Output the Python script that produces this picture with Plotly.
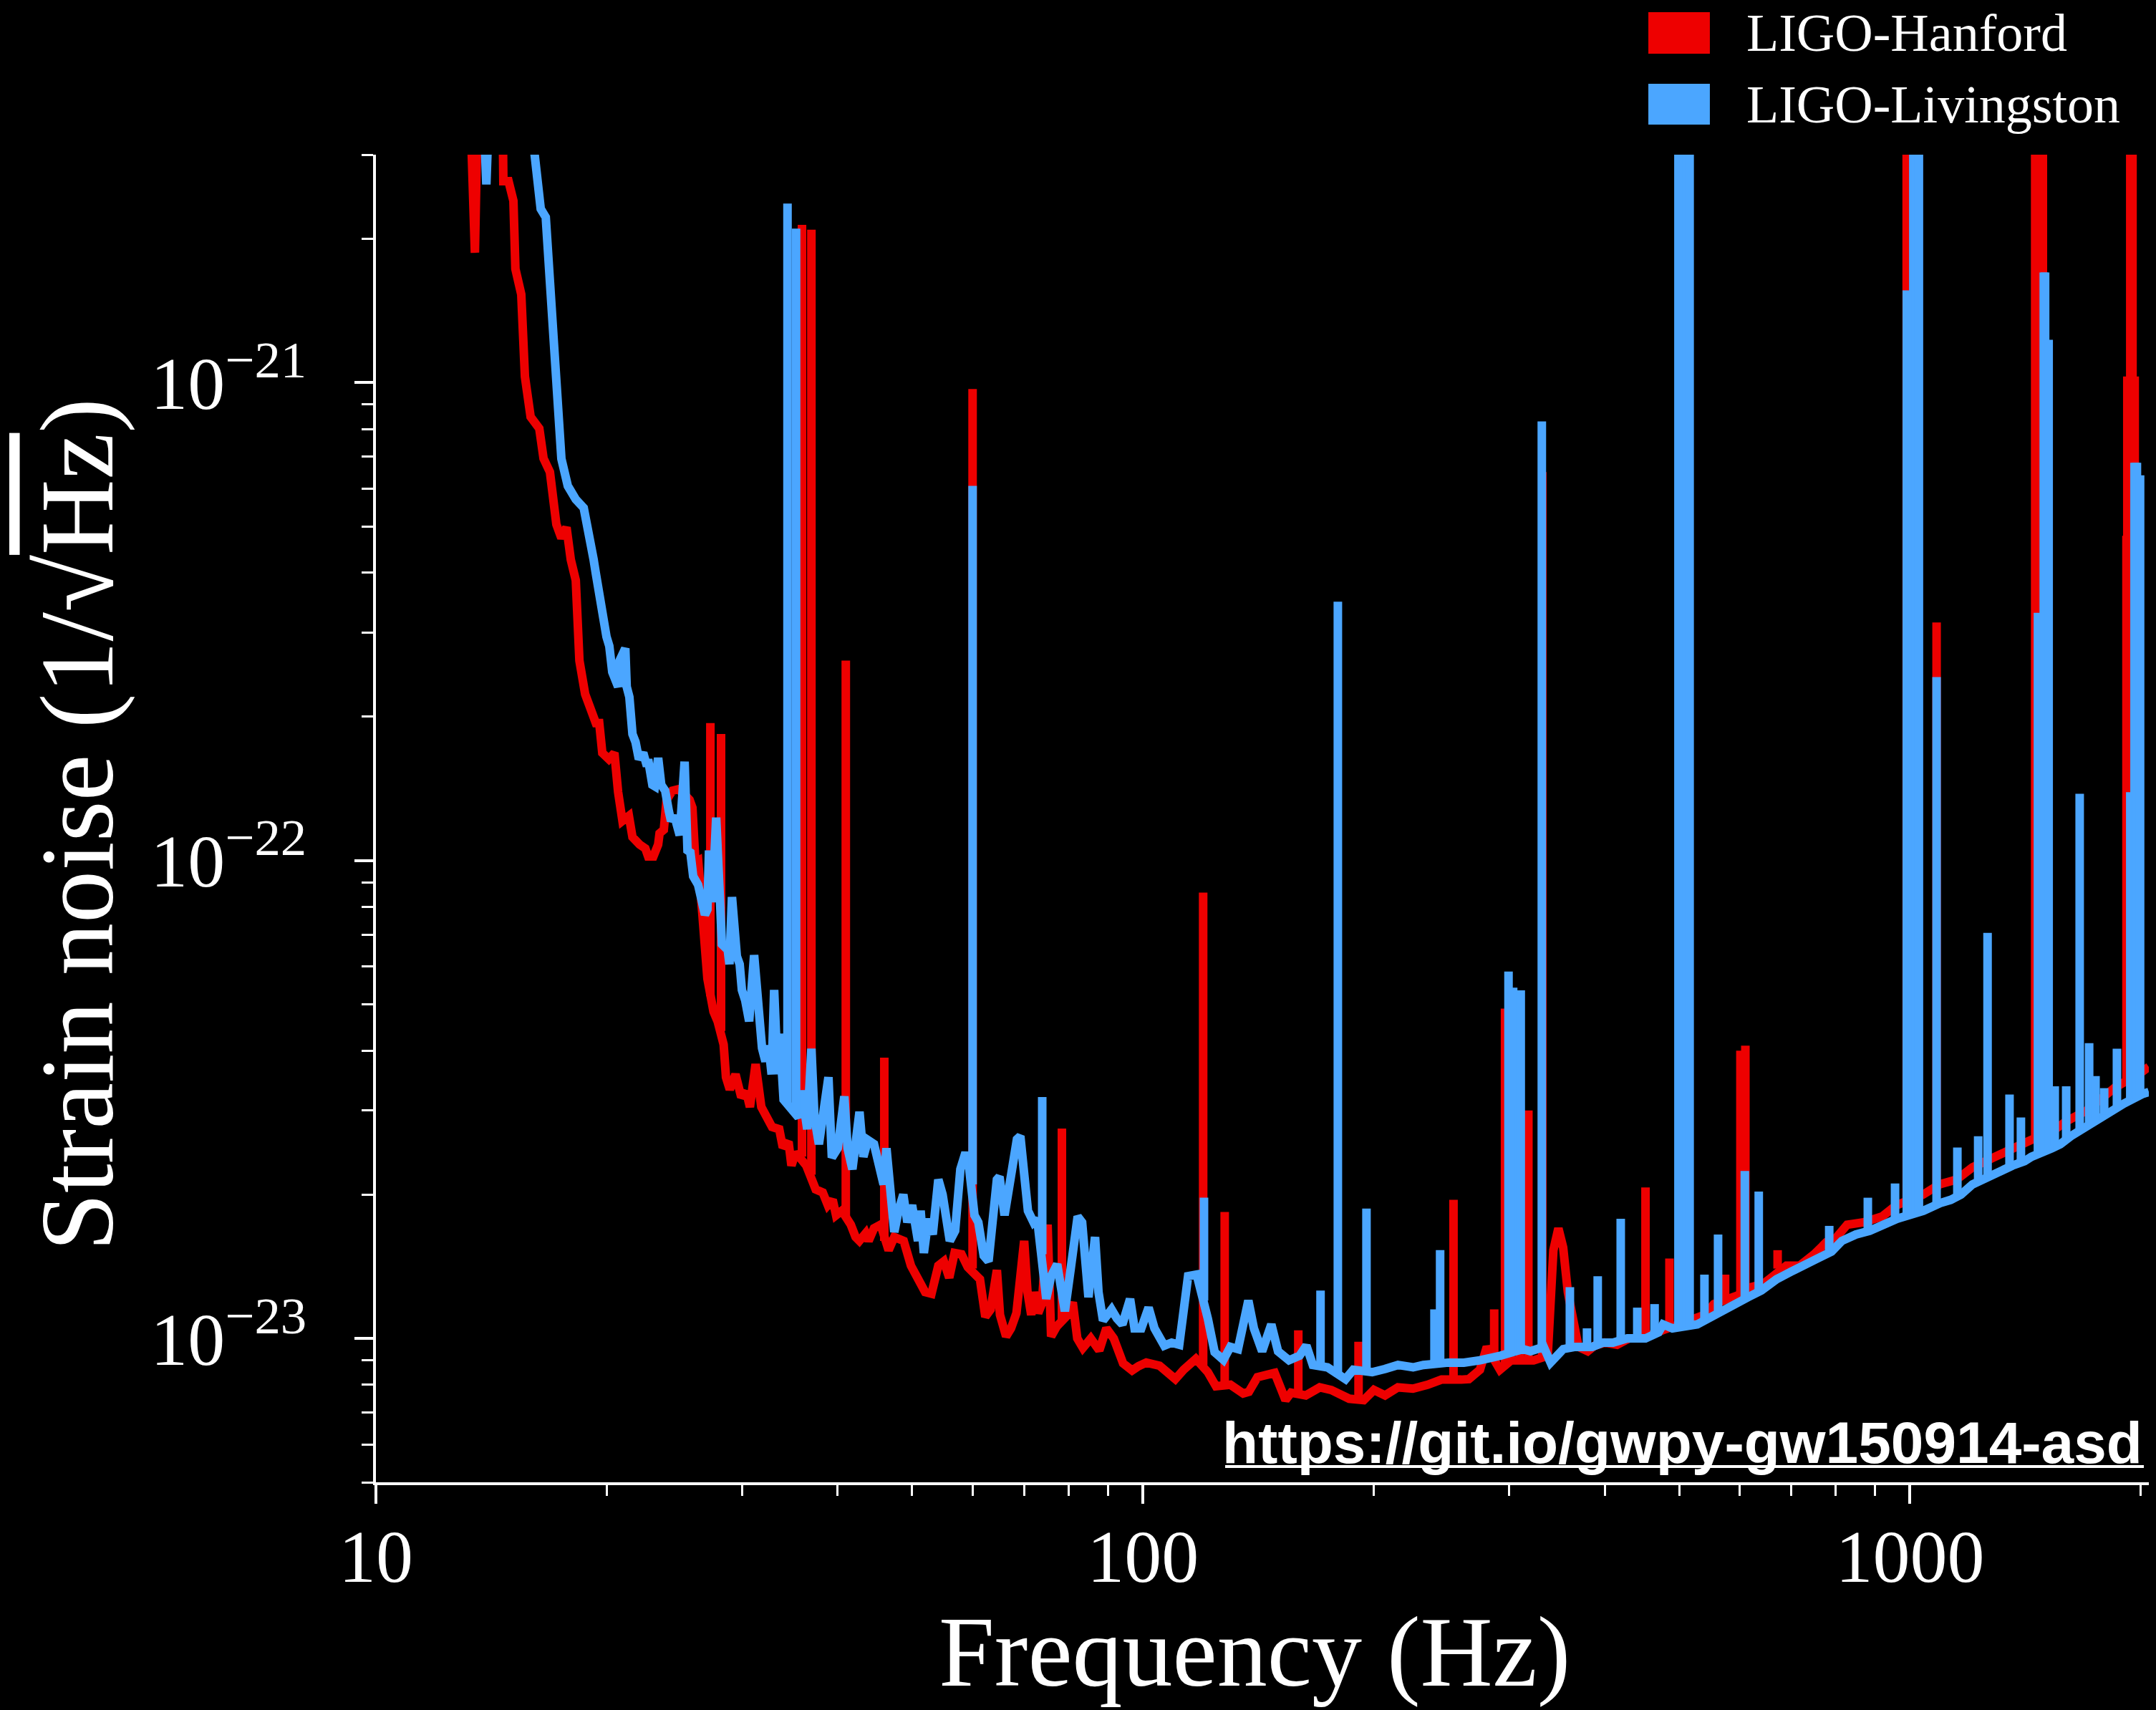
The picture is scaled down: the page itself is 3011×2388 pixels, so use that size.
import math
import plotly.graph_objects as go

# ---------------- data ----------------
# LIGO-Hanford broadband ASD (Hz, 1/sqrt(Hz))
h_freq = [
    10.0, 12.0, 13.2, 13.46, 13.62, 14.0, 14.6, 14.66,
    14.89, 15.11, 15.2, 15.47, 15.64, 15.91, 16.33, 16.54,
    16.86, 17.19, 17.45, 17.72, 17.95, 18.22, 18.42, 18.74,
    19.14, 19.35, 19.55, 19.73, 20.12, 20.46, 20.69, 20.96,
    21.37, 21.6, 22.07, 22.45, 22.64, 23.0, 23.33, 23.43,
    23.73, 23.93, 24.35, 24.77, 25.2, 25.64, 25.86, 26.09,
    26.31, 26.49, 26.8, 27.05, 27.55, 27.9, 28.4, 28.6,
    28.93, 29.43, 29.94, 30.4, 30.73, 31.26, 31.8, 32.28,
    32.84, 33.56, 33.92, 34.51, 34.81, 35.26, 35.6, 36.4,
    37.44, 38.24, 38.83, 39.4, 39.8, 40.5, 41.6, 42.2,
    42.69, 43.5, 43.88, 44.6, 45.5, 46.6, 47.4, 48.76,
    49.83, 50.9, 52.0, 53.0, 54.1, 55.0, 55.9, 56.8,
    58.0, 59.1, 60.7, 61.3, 62.3, 63.3, 64.5, 65.1,
    66.3, 67.3, 68.4, 69.2, 70.0, 70.7, 71.5, 72.1,
    73.0, 73.8, 75.1, 75.9, 77.2, 79.8, 81.0, 82.1,
    83.5, 85.5, 87.7, 89.6, 91.6, 94.2, 96.8, 98.7,
    101.0, 105.1, 108.0, 110.2, 113.0, 117.2, 121.5, 124.5,
    130.0, 135.1, 137.4, 141.0, 148.5, 153.4, 156.0, 163.0,
    170.0, 176.0, 185.7, 194.0, 200.0, 206.8, 215.0, 224.9,
    235.0, 245.0, 260.0, 266.0, 275.0, 280.7, 292.0, 302.0,
    313.0, 323.0, 337.0, 342.8, 348.0, 353.0, 358.0, 364.8,
    369.6, 380.0, 388.0, 400.0, 415.0, 430.0, 445.0, 460.0,
    475.0, 492.0, 500.0, 515.0, 525.0, 540.0, 555.0, 585.0,
    596.0, 620.0, 643.7, 690.0, 718.0, 750.0, 778.0, 800.0,
    828.0, 870.0, 920.0, 960.0, 1040.0, 1092.0, 1150.0, 1206.0,
    1260.0, 1330.0, 1400.0, 1550.0, 1600.0, 1700.0, 1779.0, 1850.0,
    2000.0, 2048.0,
]
h_asd = [
    3e-19, 2e-20, 5e-21, 1.87e-21, 5e-21, 8e-21, 5e-21, 2.64e-21,
    2.64e-21, 2.40e-21, 1.73e-21, 1.53e-21, 1.03e-21, 8.48e-22, 8.02e-22, 6.94e-22,
    6.50e-22, 5.05e-22, 4.73e-22, 4.98e-22, 4.26e-22, 3.86e-22, 2.62e-22, 2.23e-22,
    2.06e-22, 1.94e-22, 1.94e-22, 1.68e-22, 1.63e-22, 1.68e-22, 1.39e-22, 1.21e-22,
    1.24e-22, 1.12e-22, 1.08e-22, 1.06e-22, 1.02e-22, 1.02e-22, 1.08e-22, 1.14e-22,
    1.16e-22, 1.34e-22, 1.40e-22, 1.41e-22, 1.38e-22, 1.34e-22, 1.29e-22, 9.93e-23,
    1.0e-22, 8.48e-23, 7.11e-23, 5.66e-23, 4.83e-23, 4.6e-23, 4.12e-23, 3.52e-23,
    3.32e-23, 3.57e-23, 3.20e-23, 3.28e-23, 3.05e-23, 3.75e-23, 3.05e-23, 2.94e-23,
    2.77e-23, 2.74e-23, 2.51e-23, 2.58e-23, 2.30e-23, 2.45e-23, 2.4e-23, 2.3e-23,
    2.05e-23, 2.02e-23, 1.90e-23, 1.95e-23, 1.81e-23, 1.85e-23, 1.73e-23, 1.63e-23,
    1.60e-23, 1.66e-23, 1.60e-23, 1.70e-23, 1.73e-23, 1.53e-23, 1.63e-23, 1.60e-23,
    1.42e-23, 1.32e-23, 1.25e-23, 1.24e-23, 1.42e-23, 1.45e-23, 1.34e-23, 1.51e-23,
    1.50e-23, 1.41e-23, 1.36e-23, 1.33e-23, 1.11e-23, 1.15e-23, 1.39e-23, 1.12e-23,
    1.01e-23, 1.05e-23, 1.13e-23, 1.42e-23, 1.60e-23, 1.25e-23, 1.12e-23, 1.25e-23,
    1.13e-23, 1.18e-23, 1.73e-23, 1.01e-23, 1.06e-23, 1.12e-23, 1.19e-23, 1.0e-23,
    9.55e-24, 1.0e-23, 9.44e-24, 1.05e-23, 1.0e-23, 8.87e-24, 8.57e-24, 8.75e-24,
    8.9e-24, 8.77e-24, 8.4e-24, 8.22e-24, 8.6e-24, 9.06e-24, 8.5e-24, 7.94e-24,
    8.0e-24, 7.67e-24, 7.73e-24, 8.3e-24, 8.47e-24, 7.43e-24, 7.7e-24, 7.6e-24,
    7.9e-24, 7.8e-24, 7.48e-24, 7.43e-24, 7.8e-24, 7.6e-24, 7.9e-24, 7.85e-24,
    8.0e-24, 8.2e-24, 8.2e-24, 8.22e-24, 8.6e-24, 9.6e-24, 8.6e-24, 9.0e-24,
    9.0e-24, 9.0e-24, 9.2e-24, 1.53e-23, 1.70e-23, 1.55e-23, 1.25e-23, 1.04e-23,
    9.6e-24, 9.4e-24, 9.66e-24, 9.8e-24, 9.7e-24, 1.0e-23, 1.0e-23, 1.02e-23,
    1.04e-23, 1.06e-23, 1.07e-23, 1.09e-23, 1.10e-23, 1.12e-23, 1.18e-23, 1.22e-23,
    1.23e-23, 1.28e-23, 1.30e-23, 1.42e-23, 1.42e-23, 1.5e-23, 1.59e-23, 1.62e-23,
    1.73e-23, 1.75e-23, 1.8e-23, 1.9e-23, 2.0e-23, 2.1e-23, 2.15e-23, 2.28e-23,
    2.35e-23, 2.45e-23, 2.55e-23, 2.75e-23, 2.85e-23, 3.0e-23, 3.2e-23, 3.35e-23,
    3.6e-23, 3.7e-23,
]
# LIGO-Hanford narrow lines: frequency, level at foot, level at top
h_line_freq = [
    27.29, 28.18, 35.93, 36.96, 40.98, 46.0, 59.96, 78.4,
    119.8, 127.8, 159.4, 191.0, 254.0, 287.0, 296.5, 310.0,
    318.0, 331.6, 452.0, 485.7, 574.0, 601.0, 610.0, 672.0,
    990.0, 1083.0, 1456.0, 1465.0, 1474.0, 1482.0, 1490.0, 1915.0,
    1920.0, 1937.0, 1944.0, 1950.0, 1963.0,
]
h_line_floor = [
    5.2e-23, 4.4e-23, 2.4e-23, 2.2e-23, 1.8e-23, 1.6e-23, 1.4e-23, 1.08e-23,
    8.8e-24, 7.9e-24, 7.6e-24, 7.45e-24, 8.2e-24, 9.0e-24, 8.8e-24, 9.0e-24,
    9.0e-24, 9.1e-24, 1.01e-23, 1.05e-23, 1.2e-23, 1.24e-23, 1.25e-23, 1.4e-23,
    1.95e-23, 2.05e-23, 2.6e-23, 2.6e-23, 2.6e-23, 2.6e-23, 2.6e-23, 3.4e-23,
    3.4e-23, 3.45e-23, 3.45e-23, 3.45e-23, 3.5e-23,
]
h_line_peak = [
    1.94e-22, 1.84e-22, 2.14e-21, 2.09e-21, 2.62e-22, 3.87e-23, 9.7e-22, 2.75e-23,
    8.57e-23, 1.84e-23, 1.04e-23, 9.84e-24, 1.95e-23, 1.15e-23, 4.9e-23, 3.1e-23,
    3.0e-23, 6.5e-22, 2.07e-23, 1.47e-23, 1.36e-23, 4.0e-23, 4.1e-23, 1.53e-23,
    8e-21, 3.15e-22, 8e-21, 8e-21, 8e-21, 8e-21, 8e-21, 4.78e-22,
    1.03e-21, 8e-21, 8e-21, 8e-21, 1.03e-21,
]

# LIGO-Livingston broadband ASD
l_freq = [
    10.0, 12.0, 13.5, 13.75, 13.93, 14.1, 15.0, 15.9,
    16.08, 16.4, 16.65, 16.94, 17.19, 17.45, 17.79, 18.22,
    18.66, 18.94, 19.22, 19.35, 19.68, 19.98, 20.15, 20.33,
    20.69, 20.78, 21.14, 21.23, 21.4, 21.6, 21.8, 22.02,
    22.31, 22.5, 22.68, 22.93, 23.1, 23.33, 23.55, 23.83,
    24.09, 24.25, 24.5, 24.89, 25.26, 25.48, 25.7, 25.92,
    26.3, 26.6, 26.85, 27.05, 27.18, 27.45, 27.77, 28.1,
    28.25, 28.75, 28.9, 29.12, 29.55, 29.8, 30.0, 30.3,
    30.66, 31.12, 31.5, 31.87, 32.2, 32.5, 32.8, 33.05,
    33.4, 33.6, 34.0, 34.8, 35.55, 35.9, 36.5, 36.96,
    37.3, 37.8, 38.3, 38.9, 39.3, 40.0, 40.8, 41.2,
    41.8, 42.7, 43.2, 43.8, 44.6, 45.3, 45.9, 46.3,
    46.8, 47.4, 48.0, 48.7, 49.3, 50.0, 50.9, 51.3,
    51.8, 52.5, 53.2, 54.1, 54.8, 55.5, 56.0, 56.9,
    57.8, 58.7, 59.3, 60.3, 61.0, 62.0, 62.9, 64.5,
    65.0, 66.0, 67.0, 68.5, 69.2, 70.0, 70.8, 72.0,
    72.8, 74.8, 75.9, 77.3, 78.2, 79.1, 80.5, 82.2,
    83.3, 84.9, 86.6, 87.5, 88.7, 89.6, 91.0, 92.5,
    94.0, 96.2, 97.5, 99.5, 101.7, 103.5, 106.6, 109.0,
    111.5, 114.5, 117.5, 121.5, 124.0, 127.3, 130.0, 133.0,
    137.2, 139.5, 143.0, 147.0, 150.0, 155.0, 160.0, 163.3,
    166.5, 174.0, 183.7, 188.0, 199.0, 206.8, 215.0, 225.0,
    232.0, 250.0, 262.0, 275.0, 285.0, 292.4, 313.0, 320.0,
    333.0, 339.9, 353.2, 366.0, 385.0, 398.0, 410.0, 428.0,
    452.0, 470.0, 476.4, 490.0, 528.0, 545.0, 552.0, 568.0,
    585.0, 600.0, 615.0, 640.0, 670.0, 700.0, 740.0, 790.0,
    815.0, 850.0, 886.0, 920.0, 962.0, 1041.0, 1070.0, 1095.0,
    1130.0, 1165.0, 1206.0, 1240.0, 1280.0, 1360.0, 1410.0, 1440.0,
    1531.0, 1570.0, 1620.0, 1680.0, 1730.0, 1779.0, 1830.0, 1900.0,
    2012.0, 2048.0,
]
l_asd = [
    5e-19, 5e-20, 1e-20, 4.5e-21, 2.6e-21, 4.5e-21, 1e-20, 3.6e-21,
    3.02e-21, 2.31e-21, 2.22e-21, 1.44e-21, 1.03e-21, 6.93e-22, 6.08e-22, 5.70e-22,
    5.47e-22, 4.67e-22, 4.27e-22, 3.99e-22, 3.26e-22, 2.94e-22, 2.81e-22, 2.48e-22,
    2.31e-22, 2.62e-22, 2.78e-22, 2.31e-22, 2.20e-22, 1.84e-22, 1.77e-22, 1.63e-22,
    1.68e-22, 1.60e-22, 1.60e-22, 1.44e-22, 1.43e-22, 1.64e-22, 1.44e-22, 1.40e-22,
    1.27e-22, 1.21e-22, 1.24e-22, 1.13e-22, 1.61e-22, 1.05e-22, 1.04e-22, 9.27e-23,
    8.9e-23, 8.18e-23, 7.7e-23, 7.9e-23, 1.05e-22, 8.18e-23, 1.23e-22, 8.18e-23,
    6.68e-23, 6.5e-23, 6.07e-23, 8.39e-23, 6.3e-23, 6.07e-23, 5.36e-23, 5.1e-23,
    4.61e-23, 6.34e-23, 4.7e-23, 4.05e-23, 3.8e-23, 4.1e-23, 3.57e-23, 5.36e-23,
    3.57e-23, 4.34e-23, 3.16e-23, 3.0e-23, 2.90e-23, 3.3e-23, 2.74e-23, 4.04e-23,
    2.9e-23, 2.55e-23, 3.0e-23, 3.52e-23, 2.39e-23, 2.5e-23, 3.21e-23, 2.5e-23,
    2.26e-23, 2.98e-23, 2.4e-23, 2.6e-23, 2.55e-23, 2.3e-23, 2.1e-23, 2.5e-23,
    2.0e-23, 1.67e-23, 1.85e-23, 2.0e-23, 1.75e-23, 1.9e-23, 1.6e-23, 1.85e-23,
    1.51e-23, 1.78e-23, 1.65e-23, 2.15e-23, 2.0e-23, 1.8e-23, 1.6e-23, 1.68e-23,
    2.26e-23, 2.45e-23, 2.3e-23, 1.81e-23, 1.75e-23, 1.49e-23, 1.45e-23, 2.15e-23,
    2.18e-23, 1.81e-23, 2.15e-23, 2.61e-23, 2.65e-23, 2.25e-23, 1.85e-23, 1.75e-23,
    1.78e-23, 1.21e-23, 1.35e-23, 1.43e-23, 1.25e-23, 1.14e-23, 1.4e-23, 1.80e-23,
    1.75e-23, 1.22e-23, 1.63e-23, 1.25e-23, 1.09e-23, 1.11e-23, 1.15e-23, 1.10e-23,
    1.07e-23, 1.21e-23, 1.05e-23, 1.05e-23, 1.16e-23, 1.05e-23, 9.66e-24, 9.8e-24,
    9.7e-24, 1.35e-23, 1.36e-23, 1.1e-23, 9.36e-24, 9.02e-24, 9.6e-24, 9.5e-24,
    1.2e-23, 1.05e-23, 9.4e-24, 1.07e-23, 9.4e-24, 9.0e-24, 9.2e-24, 9.66e-24,
    8.8e-24, 8.7e-24, 8.22e-24, 8.6e-24, 8.5e-24, 8.63e-24, 8.8e-24, 8.7e-24,
    8.8e-24, 8.9e-24, 8.9e-24, 9.0e-24, 9.1e-24, 9.2e-24, 9.5e-24, 9.4e-24,
    9.6e-24, 8.9e-24, 9.5e-24, 9.6e-24, 9.6e-24, 9.8e-24, 9.8e-24, 1.0e-23,
    1.0e-23, 1.03e-23, 1.07e-23, 1.05e-23, 1.07e-23, 1.1e-23, 1.12e-23, 1.14e-23,
    1.18e-23, 1.2e-23, 1.22e-23, 1.26e-23, 1.33e-23, 1.38e-23, 1.45e-23, 1.52e-23,
    1.6e-23, 1.65e-23, 1.68e-23, 1.73e-23, 1.78e-23, 1.85e-23, 1.9e-23, 1.92e-23,
    1.95e-23, 2.0e-23, 2.1e-23, 2.15e-23, 2.2e-23, 2.3e-23, 2.35e-23, 2.4e-23,
    2.5e-23, 2.55e-23, 2.65e-23, 2.75e-23, 2.85e-23, 2.92e-23, 3.0e-23, 3.1e-23,
    3.25e-23, 3.28e-23,
]
# LIGO-Livingston narrow lines
l_line_freq = [
    34.4, 35.3, 59.96, 73.9, 120.1, 170.4, 179.5, 195.6,
    239.9, 244.0, 299.6, 303.8, 309.2, 310.8, 331.1, 360.2,
    379.2, 391.6, 419.6, 441.0, 464.5, 499.0, 503.0, 507.0,
    511.0, 516.0, 539.5, 562.0, 609.0, 635.0, 784.6, 881.0,
    956.0, 990.4, 1010.0, 1014.0, 1018.0, 1022.0, 1027.0, 1083.0,
    1152.7, 1227.0, 1262.0, 1348.0, 1395.0, 1468.0, 1494.0, 1500.0,
    1516.0, 1544.0, 1598.0, 1664.0, 1712.0, 1745.0, 1791.0, 1861.0,
    1937.0, 1962.0, 1969.0, 1976.0, 1995.0,
]
l_line_floor = [
    3.1e-23, 2.95e-23, 2.1e-23, 1.5e-23, 1.2e-23, 8.9e-24, 8.5e-24, 8.5e-24,
    8.8e-24, 8.8e-24, 9.2e-24, 9.3e-24, 9.4e-24, 9.4e-24, 9.6e-24, 9.5e-24,
    9.6e-24, 9.7e-24, 9.9e-24, 1.0e-23, 1.02e-23, 1.06e-23, 1.06e-23, 1.06e-23,
    1.06e-23, 1.06e-23, 1.08e-23, 1.13e-23, 1.21e-23, 1.25e-23, 1.5e-23, 1.66e-23,
    1.77e-23, 1.8e-23, 1.82e-23, 1.82e-23, 1.82e-23, 1.82e-23, 1.82e-23, 1.9e-23,
    1.97e-23, 2.12e-23, 2.17e-23, 2.28e-23, 2.33e-23, 2.42e-23, 2.45e-23, 2.45e-23,
    2.48e-23, 2.52e-23, 2.6e-23, 2.72e-23, 2.8e-23, 2.86e-23, 2.94e-23, 3.04e-23,
    3.15e-23, 3.17e-23, 3.17e-23, 3.17e-23, 3.22e-23,
]
l_line_peak = [
    2.37e-21, 2.1e-21, 6.08e-22, 3.2e-23, 1.97e-23, 1.26e-23, 3.48e-22, 1.87e-23,
    1.15e-23, 1.53e-23, 5.86e-23, 5.42e-23, 3.07e-23, 5.35e-23, 8.3e-22, 1.28e-23,
    1.05e-23, 1.35e-23, 1.78e-23, 1.16e-23, 1.18e-23, 8e-21, 8e-21, 8e-21,
    8e-21, 8e-21, 1.36e-23, 1.65e-23, 2.24e-23, 2.03e-23, 1.72e-23, 1.97e-23,
    2.11e-23, 1.56e-21, 8e-21, 8e-21, 8e-21, 8e-21, 8e-21, 2.42e-22,
    2.51e-23, 2.65e-23, 7.06e-23, 3.24e-23, 2.9e-23, 3.3e-22, 1.7e-21, 1.7e-21,
    1.23e-21, 3.37e-23, 3.37e-23, 1.38e-22, 4.15e-23, 3.54e-23, 3.34e-23, 4.04e-23,
    1.39e-22, 6.8e-22, 6.8e-22, 6.8e-22, 6.4e-22,
]

# axis ticks and labels
x_major = [10, 100, 1000]
x_major_text = ["10", "100", "1000"]
x_minor = [20, 30, 40, 50, 60, 70, 80, 90, 200, 300, 400, 500, 600, 700, 800, 900, 2000]
y_major = [1e-23, 1e-22, 1e-21]
y_major_text = ["10<sup>\u221223</sup>", "10<sup>\u221222</sup>", "10<sup>\u221221</sup>"]
y_minor = [5e-24, 6e-24, 7e-24, 8e-24, 9e-24,
           2e-23, 3e-23, 4e-23, 5e-23, 6e-23, 7e-23, 8e-23, 9e-23,
           2e-22, 3e-22, 4e-22, 5e-22, 6e-22, 7e-22, 8e-22, 9e-22,
           2e-21, 3e-21]
x_limits = [10, 2048]
y_limits = [5e-24, 3e-21]

series_names = ["LIGO-Hanford", "LIGO-Livingston"]
RED = "#ee0000"
BLUE = "#4ba6ff"
LW = 12
SERIF = "Liberation Serif"

assert len(h_freq) == len(h_asd)
assert len(l_freq) == len(l_asd)
assert len(h_line_freq) == len(h_line_floor) == len(h_line_peak)
assert len(l_line_freq) == len(l_line_floor) == len(l_line_peak)


def vertical_lines(freqs, floors, peaks):
    xs, ys = [], []
    for f, lo, hi in zip(freqs, floors, peaks):
        xs += [f, f, None]
        ys += [lo, hi, None]
    return xs, ys


fig = go.Figure()
for fx, fy, lf, lfl, lpk, col, name in [
    (h_freq, h_asd, h_line_freq, h_line_floor, h_line_peak, RED, series_names[0]),
    (l_freq, l_asd, l_line_freq, l_line_floor, l_line_peak, BLUE, series_names[1]),
]:
    fig.add_trace(go.Scatter(x=fx, y=fy, mode="lines", name=name,
                             line=dict(color=col, width=LW), hoverinfo="skip",
                             showlegend=False))
    vx, vy = vertical_lines(lf, lfl, lpk)
    fig.add_trace(go.Scatter(x=vx, y=vy, mode="lines", name=name,
                             line=dict(color=col, width=LW), hoverinfo="skip",
                             connectgaps=False, showlegend=False))

axis_common = dict(
    type="log", showline=True, linecolor="white", linewidth=4,
    ticks="outside", ticklen=26, tickwidth=4, tickcolor="white",
    showgrid=False, zeroline=False, mirror=False,
    tickfont=dict(family=SERIF, size=104, color="white"),
)
fig.update_xaxes(
    **axis_common,
    range=[math.log10(x_limits[0]), math.log10(x_limits[1])],
    tickmode="array", tickvals=x_major, ticktext=x_major_text,
    ticklabelstandoff=-16,
    minor=dict(ticks="outside", ticklen=15, tickwidth=3, tickcolor="white",
               tickmode="array", tickvals=x_minor, showgrid=False),
)
fig.update_yaxes(
    **axis_common,
    range=[math.log10(y_limits[0]), math.log10(y_limits[1])],
    tickmode="array", tickvals=y_major, ticktext=y_major_text,
    ticklabelstandoff=46,
    minor=dict(ticks="outside", ticklen=16, tickwidth=3, tickcolor="white",
               tickmode="array", tickvals=y_minor, showgrid=False),
)

annotations = [
    dict(text="Frequency (Hz)", x=0.4956, y=-0.1275, xref="paper", yref="paper",
         xanchor="center", yanchor="middle", showarrow=False,
         font=dict(family=SERIF, size=140, color="white")),
    dict(text="Strain noise (1/\u221a<span style='text-decoration:overline'>Hz</span>)",
         x=-0.1684, y=0.4951, xref="paper", yref="paper", textangle=-90,
         xanchor="center", yanchor="middle", showarrow=False,
         font=dict(family=SERIF, size=146, color="white")),
    dict(text=series_names[0], x=0.7722, y=1.0917, xref="paper", yref="paper",
         xanchor="left", yanchor="middle", showarrow=False,
         font=dict(family=SERIF, size=74, color="white")),
    dict(text=series_names[1], x=0.7722, y=1.0377, xref="paper", yref="paper",
         xanchor="left", yanchor="middle", showarrow=False,
         font=dict(family=SERIF, size=74, color="white")),
    dict(text="<b>https://git.io/gwpy-gw150914-asd</b>", x=0.99717, y=0.0302,
         xref="paper", yref="paper", xanchor="right", yanchor="middle",
         showarrow=False,
         font=dict(family="Liberation Sans", size=82, color="white")),
]
shapes = [
    dict(type="rect", xref="paper", yref="paper", x0=0.7177, x1=0.7524,
         y0=1.0761, y1=1.1073, fillcolor=RED, line=dict(width=0)),
    dict(type="rect", xref="paper", yref="paper", x0=0.7177, x1=0.7524,
         y0=1.0227, y1=1.0534, fillcolor=BLUE, line=dict(width=0)),
    dict(type="line", xref="paper", yref="paper", x0=0.479, x1=0.99717,
         y0=0.01187, y1=0.01187, line=dict(color="white", width=4)),
]

fig.update_layout(
    width=3011, height=2388,
    margin=dict(l=525, r=10, t=216, b=318, pad=0),
    paper_bgcolor="black", plot_bgcolor="black",
    showlegend=False, hovermode=False,
    font=dict(family=SERIF, color="white"),
    annotations=annotations, shapes=shapes,
)

fig.write_html("out.html", include_plotlyjs=True,
               config={"displayModeBar": False, "staticPlot": True},
               post_script="document.body.style.margin='0px';document.body.style.overflow='hidden';")
